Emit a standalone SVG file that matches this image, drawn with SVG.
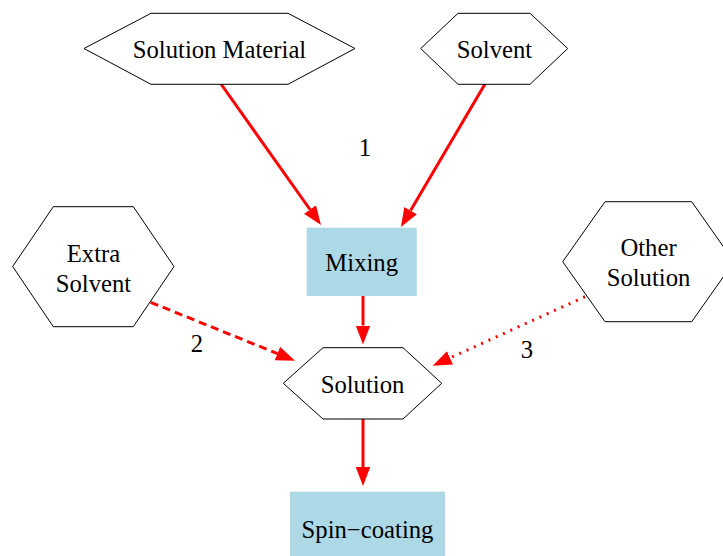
<svg xmlns="http://www.w3.org/2000/svg" width="723" height="556" viewBox="0 0 723 556">
<style>
.t{font-family:'Liberation Serif','Times New Roman',Times,serif;font-size:24.7px;fill:#000;text-anchor:middle}
.hex{fill:#fff;stroke:#000;stroke-width:1}
.box{fill:#add8e6;stroke:none}
.e{stroke:#ff0000;stroke-width:3;fill:none}
</style>
<defs>
<marker id="ah" markerUnits="userSpaceOnUse" markerWidth="20" markerHeight="16" refX="0" refY="7.3" orient="auto">
<path d="M0,0 L19,7.3 L0,14.6 Z" fill="#ff0000"/>
</marker>
</defs>
<rect width="723" height="556" fill="#fff"/>
<g id="edges">
<line class="e" x1="221" y1="84" x2="310" y2="209.5" marker-end="url(#ah)"/>
<line class="e" x1="485" y1="84" x2="410.6" y2="210.6" marker-end="url(#ah)"/>
<line class="e" x1="363" y1="296" x2="363" y2="325.5" marker-end="url(#ah)"/>
<line class="e" x1="150.7" y1="302.3" x2="277.4" y2="353.6" stroke-dasharray="8,5" marker-end="url(#ah)"/>
<line class="e" x1="585" y1="296.7" x2="450" y2="357.9" stroke-width="2.5" stroke-dasharray="2,6" marker-end="url(#ah)"/>
<line class="e" x1="363" y1="419" x2="363" y2="467" marker-end="url(#ah)"/>
<text class="t" font-family="Liberation Serif" x="365" y="156">1</text>
<text class="t" font-family="Liberation Serif" x="197" y="352">2</text>
<text class="t" font-family="Liberation Serif" x="527" y="358">3</text>
</g>
<g id="solution_material">
<polygon class="hex" points="84,48.5 151,13.3 288,13.3 355,48.5 288,84.3 151,84.3"/>
<text class="t" font-family="Liberation Serif" x="219.5" y="57.5">Solution Material</text>
</g>
<g id="solvent">
<polygon class="hex" points="420.7,48.5 458,13.3 530,13.3 567.7,48.5 530,84.3 458,84.3"/>
<text class="t" font-family="Liberation Serif" x="494.5" y="57.5">Solvent</text>
</g>
<g id="extra_solvent">
<polygon class="hex" points="12.7,266.5 53.3,206.7 133.3,206.7 174,266.5 133.3,326.7 53.3,326.7"/>
<text class="t" font-family="Liberation Serif" x="93.5" y="261.5">Extra</text>
<text class="t" font-family="Liberation Serif" x="93.5" y="291.5">Solvent</text>
</g>
<g id="other_solution">
<polygon class="hex" points="562.7,261.7 605,201.7 691.7,201.7 734,261.7 691.7,321.7 605,321.7"/>
<text class="t" font-family="Liberation Serif" x="648.5" y="256">Other</text>
<text class="t" font-family="Liberation Serif" x="648.5" y="285.5">Solution</text>
</g>
<g id="mixing">
<rect class="box" x="306.7" y="227.7" width="110" height="68.3"/>
<text class="t" font-family="Liberation Serif" x="361.7" y="270.5">Mixing</text>
</g>
<g id="solution">
<polygon class="hex" points="283.3,383.3 323,347.7 403,347.7 441.7,383.3 403,419 323,419"/>
<text class="t" font-family="Liberation Serif" x="362.5" y="392.5">Solution</text>
</g>
<g id="spin_coating">
<rect class="box" x="290" y="491.7" width="155" height="70"/>
<text class="t" font-family="Liberation Serif" x="367.5" y="538.3">Spin−coating</text>
</g>
</svg>
